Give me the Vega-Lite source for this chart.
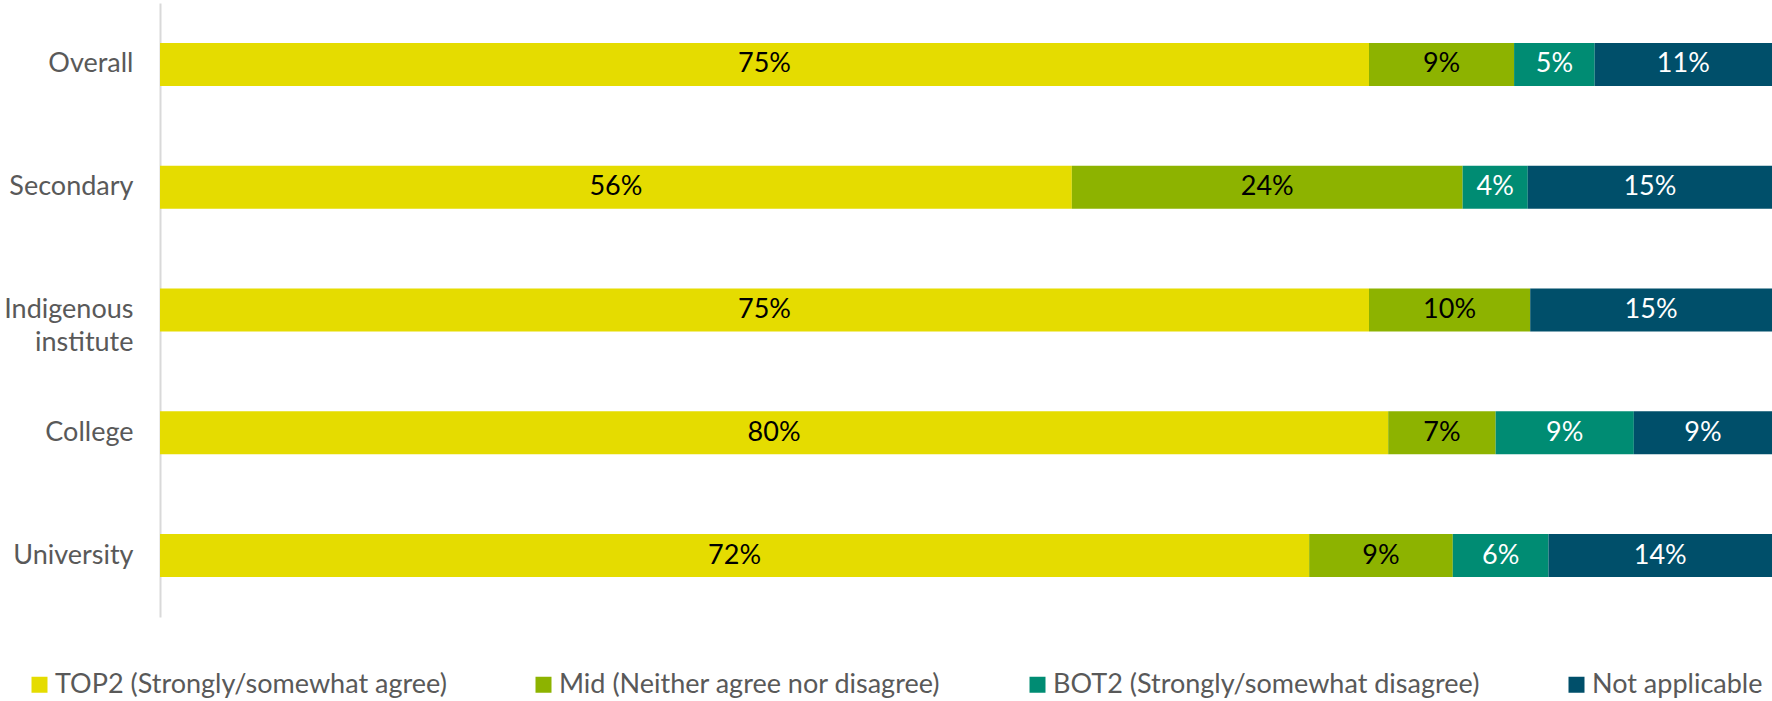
{
  "$schema": "https://vega.github.io/schema/vega-lite/v6.json",
  "autosize": "none",
  "width": 1612,
  "height": 614,
  "padding": {"left": 160, "top": 3, "right": 0, "bottom": 84},
  "background": "white",
  "config": {"view": {"stroke": null}, "font": "Lato"},
  "data": {
    "values": [
      {"group": "Overall", "response": "TOP2 (Strongly/somewhat agree)", "order": 1, "value": 75},
      {"group": "Overall", "response": "Mid (Neither agree nor disagree)", "order": 2, "value": 9},
      {"group": "Overall", "response": "BOT2 (Strongly/somewhat disagree)", "order": 3, "value": 5},
      {"group": "Overall", "response": "Not applicable", "order": 4, "value": 11},
      {"group": "Secondary", "response": "TOP2 (Strongly/somewhat agree)", "order": 1, "value": 56},
      {"group": "Secondary", "response": "Mid (Neither agree nor disagree)", "order": 2, "value": 24},
      {"group": "Secondary", "response": "BOT2 (Strongly/somewhat disagree)", "order": 3, "value": 4},
      {"group": "Secondary", "response": "Not applicable", "order": 4, "value": 15},
      {"group": "Indigenous institute", "response": "TOP2 (Strongly/somewhat agree)", "order": 1, "value": 75},
      {"group": "Indigenous institute", "response": "Mid (Neither agree nor disagree)", "order": 2, "value": 10},
      {"group": "Indigenous institute", "response": "BOT2 (Strongly/somewhat disagree)", "order": 3, "value": 0},
      {"group": "Indigenous institute", "response": "Not applicable", "order": 4, "value": 15},
      {"group": "College", "response": "TOP2 (Strongly/somewhat agree)", "order": 1, "value": 80},
      {"group": "College", "response": "Mid (Neither agree nor disagree)", "order": 2, "value": 7},
      {"group": "College", "response": "BOT2 (Strongly/somewhat disagree)", "order": 3, "value": 9},
      {"group": "College", "response": "Not applicable", "order": 4, "value": 9},
      {"group": "University", "response": "TOP2 (Strongly/somewhat agree)", "order": 1, "value": 72},
      {"group": "University", "response": "Mid (Neither agree nor disagree)", "order": 2, "value": 9},
      {"group": "University", "response": "BOT2 (Strongly/somewhat disagree)", "order": 3, "value": 6},
      {"group": "University", "response": "Not applicable", "order": 4, "value": 14}
    ]
  },
  "transform": [
    {"stack": "value", "groupby": ["group"], "sort": [{"field": "order", "order": "ascending"}], "offset": "normalize", "as": ["v0", "v1"]}
  ],
  "encoding": {
    "y": {
      "field": "group",
      "type": "nominal",
      "sort": ["Overall", "Secondary", "Indigenous institute", "College", "University"],
      "scale": {"paddingInner": 0.65, "paddingOuter": 0.325},
      "axis": {
        "title": null,
        "ticks": false,
        "domainColor": "#D9D9D9",
        "domainWidth": 2,
        "labelFontSize": 27,
        "labelColor": "#595959",
        "labelPadding": 27,
        "labelLineHeight": 33,
        "labelExpr": "datum.value == 'Indigenous institute' ? ['Indigenous', 'institute'] : datum.value"
      }
    }
  },
  "layer": [
    {
      "mark": {"type": "bar"},
      "encoding": {
        "x": {
          "field": "v0",
          "type": "quantitative",
          "scale": {"domain": [0, 1], "nice": false},
          "axis": null
        },
        "x2": {"field": "v1"},
        "color": {
          "field": "response",
          "type": "nominal",
          "sort": ["TOP2 (Strongly/somewhat agree)", "Mid (Neither agree nor disagree)", "BOT2 (Strongly/somewhat disagree)", "Not applicable"],
          "scale": {
            "domain": ["TOP2 (Strongly/somewhat agree)", "Mid (Neither agree nor disagree)", "BOT2 (Strongly/somewhat disagree)", "Not applicable"],
            "range": ["#E5DC00", "#8DB300", "#008C73", "#004F6A"]
          },
          "legend": {
            "title": null,
            "orient": "none",
            "direction": "horizontal",
            "columns": 4,
            "legendX": -134,
            "legendY": 668,
            "symbolType": "square",
            "symbolSize": 256,
            "symbolStrokeWidth": 0,
            "labelFontSize": 27,
            "labelColor": "#595959",
            "labelOffset": 2,
            "columnPadding": 83,
            "labelLimit": 600
          }
        }
      }
    },
    {
      "transform": [
        {"filter": "datum.value > 0"},
        {"calculate": "(datum.v0 + datum.v1) / 2", "as": "mid"}
      ],
      "mark": {"type": "text", "fontSize": 27, "baseline": "middle", "align": "center", "text": {"expr": "datum.value + '%'"}},
      "encoding": {
        "x": {"field": "mid", "type": "quantitative"},
        "color": {
          "condition": {"test": "datum.order >= 3", "value": "white"},
          "value": "black"
        }
      }
    }
  ]
}
